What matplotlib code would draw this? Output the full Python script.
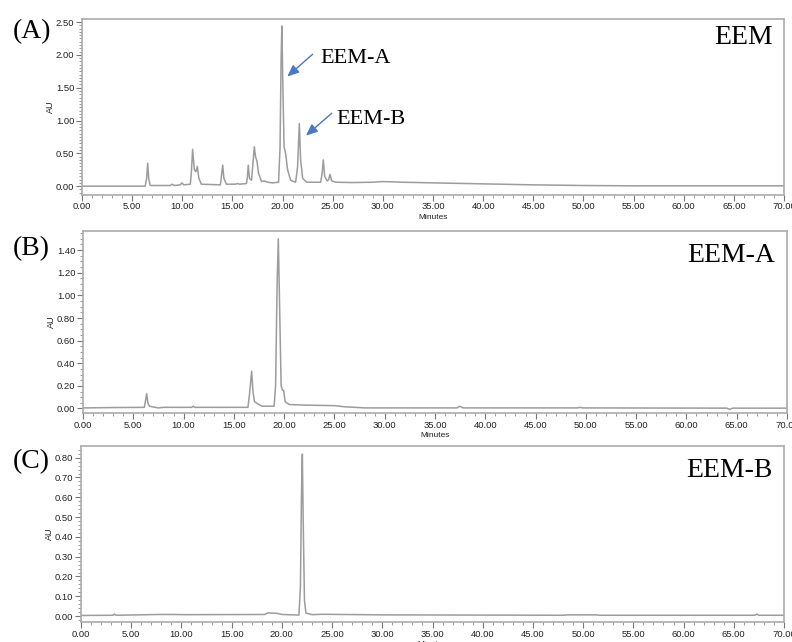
import matplotlib
matplotlib.use("Agg")
import matplotlib.pyplot as plt
from matplotlib.ticker import MultipleLocator, FormatStrFormatter

# ---------------- data ----------------
# Panel A: EEM extract chromatogram
eem_t = [0.0, 6.3, 6.45, 6.55, 6.65, 6.8, 8.8, 9.0, 9.2, 9.8, 9.95, 10.15,
         10.8, 10.9, 11.03, 11.2, 11.35, 11.5, 11.65, 11.9, 13.8, 13.9, 14.03,
         14.15, 14.4, 15.3, 15.5, 15.7, 16.4, 16.5, 16.58, 16.7, 16.9, 17.05,
         17.18, 17.3, 17.45, 17.6, 17.9, 18.2, 18.5, 19.0, 19.6, 19.75, 19.85,
         19.93, 20.02, 20.15, 20.3, 20.5, 20.8, 21.3, 21.5, 21.67, 21.8, 22.0,
         22.4, 23.8, 23.95, 24.06, 24.2, 24.45, 24.6, 24.73, 24.9, 25.3, 27.0,
         29.0, 30.0, 32.0, 35.0, 40.0, 45.0, 50.0, 55.0, 70.0]
eem_au = [0.0, 0.0, 0.12, 0.35, 0.12, 0.01, 0.01, 0.03, 0.01, 0.02, 0.05, 0.02,
          0.03, 0.20, 0.56, 0.25, 0.22, 0.30, 0.12, 0.03, 0.02, 0.15, 0.32,
          0.12, 0.03, 0.03, 0.04, 0.03, 0.04, 0.15, 0.32, 0.12, 0.09, 0.35,
          0.60, 0.45, 0.38, 0.20, 0.07, 0.08, 0.06, 0.05, 0.06, 0.60, 1.90,
          2.44, 1.60, 0.60, 0.50, 0.25, 0.09, 0.06, 0.30, 0.955, 0.40, 0.12,
          0.06, 0.06, 0.20, 0.40, 0.15, 0.08, 0.10, 0.18, 0.08, 0.06, 0.055,
          0.06, 0.07, 0.06, 0.05, 0.035, 0.02, 0.01, 0.005, 0.005]

# Panel B: EEM-A
a_t = [0.0, 3.0, 6.1, 6.2, 6.33, 6.45, 6.6, 7.5, 8.0, 10.8, 10.97, 11.1,
       16.4, 16.55, 16.77, 16.9, 17.05, 17.4, 17.8, 19.0, 19.15, 19.3, 19.42,
       19.55, 19.7, 19.85, 19.95, 20.1, 20.5, 22.0, 25.0, 26.0, 28.0, 37.2,
       37.45, 37.8, 49.2, 49.4, 49.7, 64.0, 64.3, 64.6, 70.0]
a_au = [0.005, 0.008, 0.01, 0.06, 0.13, 0.05, 0.02, 0.005, 0.01, 0.01, 0.02,
        0.01, 0.01, 0.12, 0.33, 0.15, 0.06, 0.04, 0.02, 0.02, 0.20, 1.10, 1.50,
        0.90, 0.20, 0.16, 0.16, 0.06, 0.035, 0.03, 0.025, 0.015, 0.005, 0.005,
        0.02, 0.005, 0.005, 0.01, 0.005, 0.003, -0.008, 0.003, 0.003]

# Panel C: EEM-B
b_t = [0.0, 3.2, 3.3, 3.5, 7.8, 9.2, 10.5, 18.3, 18.6, 19.5, 20.0, 21.7,
       21.85, 21.95, 22.04, 22.12, 22.25, 22.4, 23.0, 24.0, 30.0, 48.0, 48.5,
       51.3, 51.6, 67.1, 67.3, 67.5, 70.0]
b_au = [0.003, 0.004, 0.01, 0.004, 0.008, 0.008, 0.007, 0.008, 0.016, 0.014,
        0.008, 0.005, 0.15, 0.60, 0.818, 0.50, 0.08, 0.015, 0.007, 0.009,
        0.006, 0.004, 0.006, 0.006, 0.004, 0.004, 0.01, 0.004, 0.004]

panel_letters = ["(A)", "(B)", "(C)"]
panel_names = ["EEM", "EEM-A", "EEM-B"]
y_ticks_step = [0.50, 0.20, 0.10]

# ---------------- figure ----------------
W, H = 792, 642
fig = plt.figure(figsize=(W / 100, H / 100), dpi=100)

def rect(left, top, right, bottom):
    return [left / W, 1 - bottom / H, (right - left) / W, (bottom - top) / H]

LINE = "#9c9c9c"
FRAME = "#ababab"
TICKF = ["Liberation Sans Narrow", "Liberation Sans", "DejaVu Sans"]
SERIF = ["Liberation Serif", "DejaVu Serif"]

specs = [
    dict(r=rect(82, 19, 784, 194.5), ylim=(-0.127, 2.546), minor=0.05,
         t=eem_t, y=eem_au),
    dict(r=rect(83, 230.7, 787, 413), ylim=(-0.04, 1.572), minor=0.05,
         t=a_t, y=a_au),
    dict(r=rect(81, 446, 784, 622), ylim=(-0.03, 0.859), minor=0.02,
         t=b_t, y=b_au),
]

axes = []
for i, s in enumerate(specs):
    ax = fig.add_axes(s["r"])
    ax.plot(s["t"], s["y"], color=LINE, lw=1.1, solid_joinstyle="round")
    ax.set_xlim(0, 70)
    ax.set_ylim(*s["ylim"])
    ax.xaxis.set_major_locator(MultipleLocator(5))
    ax.xaxis.set_minor_locator(MultipleLocator(1))
    ax.yaxis.set_major_locator(MultipleLocator(y_ticks_step[i]))
    ax.yaxis.set_minor_locator(MultipleLocator(s["minor"]))
    ax.xaxis.set_major_formatter(FormatStrFormatter("%.2f"))
    ax.yaxis.set_major_formatter(FormatStrFormatter("%.2f"))
    for sp in ax.spines.values():
        sp.set_color(FRAME)
        sp.set_linewidth(1.2)
    ax.tick_params(which="major", direction="out", length=4, width=0.8,
                   color="#777777", pad=1.5, labelsize=6.8, labelcolor="#222222")
    ax.tick_params(which="minor", direction="out", length=2, width=0.6,
                   color="#888888")
    for lab in ax.get_xticklabels() + ax.get_yticklabels():
        lab.set_family(TICKF)
    ax.set_ylabel("AU", fontsize=6.5, family=TICKF, color="#222222")
    ax.yaxis.set_label_coords((55 - 82) / 702, 0.5)
    ax.set_xlabel("Minutes", fontsize=6, family=TICKF, color="#222222",
                  labelpad=2)
    ax.text(0.9835, 0.965 if i == 0 else 0.93, panel_names[i],
            transform=ax.transAxes, ha="right", va="top",
            fontsize=20, family=SERIF, color="black")
    axes.append(ax)

# panel letters
for letter, yc in zip(panel_letters, [31.5, 249, 462]):
    fig.text(13 / W, 1 - yc / H, letter, ha="left", va="center",
             fontsize=20, family=SERIF, color="black")

# arrows in panel A
axA = axes[0]
ARROW = "#4a78c8"
axA.annotate("", xy=(20.47, 1.67), xytext=(23.0, 2.01),
             arrowprops=dict(arrowstyle="-|>,head_length=0.7,head_width=0.3",
                             color=ARROW, lw=1.0, shrinkA=0, shrinkB=0))
axA.annotate("", xy=(22.33, 0.77), xytext=(24.9, 1.11),
             arrowprops=dict(arrowstyle="-|>,head_length=0.7,head_width=0.3",
                             color=ARROW, lw=1.0, shrinkA=0, shrinkB=0))
axA.text(23.75, 1.87, "EEM-A", ha="left", va="baseline", fontsize=16,
         family=SERIF, color="black")
axA.text(25.4, 0.95, "EEM-B", ha="left", va="baseline", fontsize=16,
         family=SERIF, color="black")

fig.savefig("out.png", dpi=100)
